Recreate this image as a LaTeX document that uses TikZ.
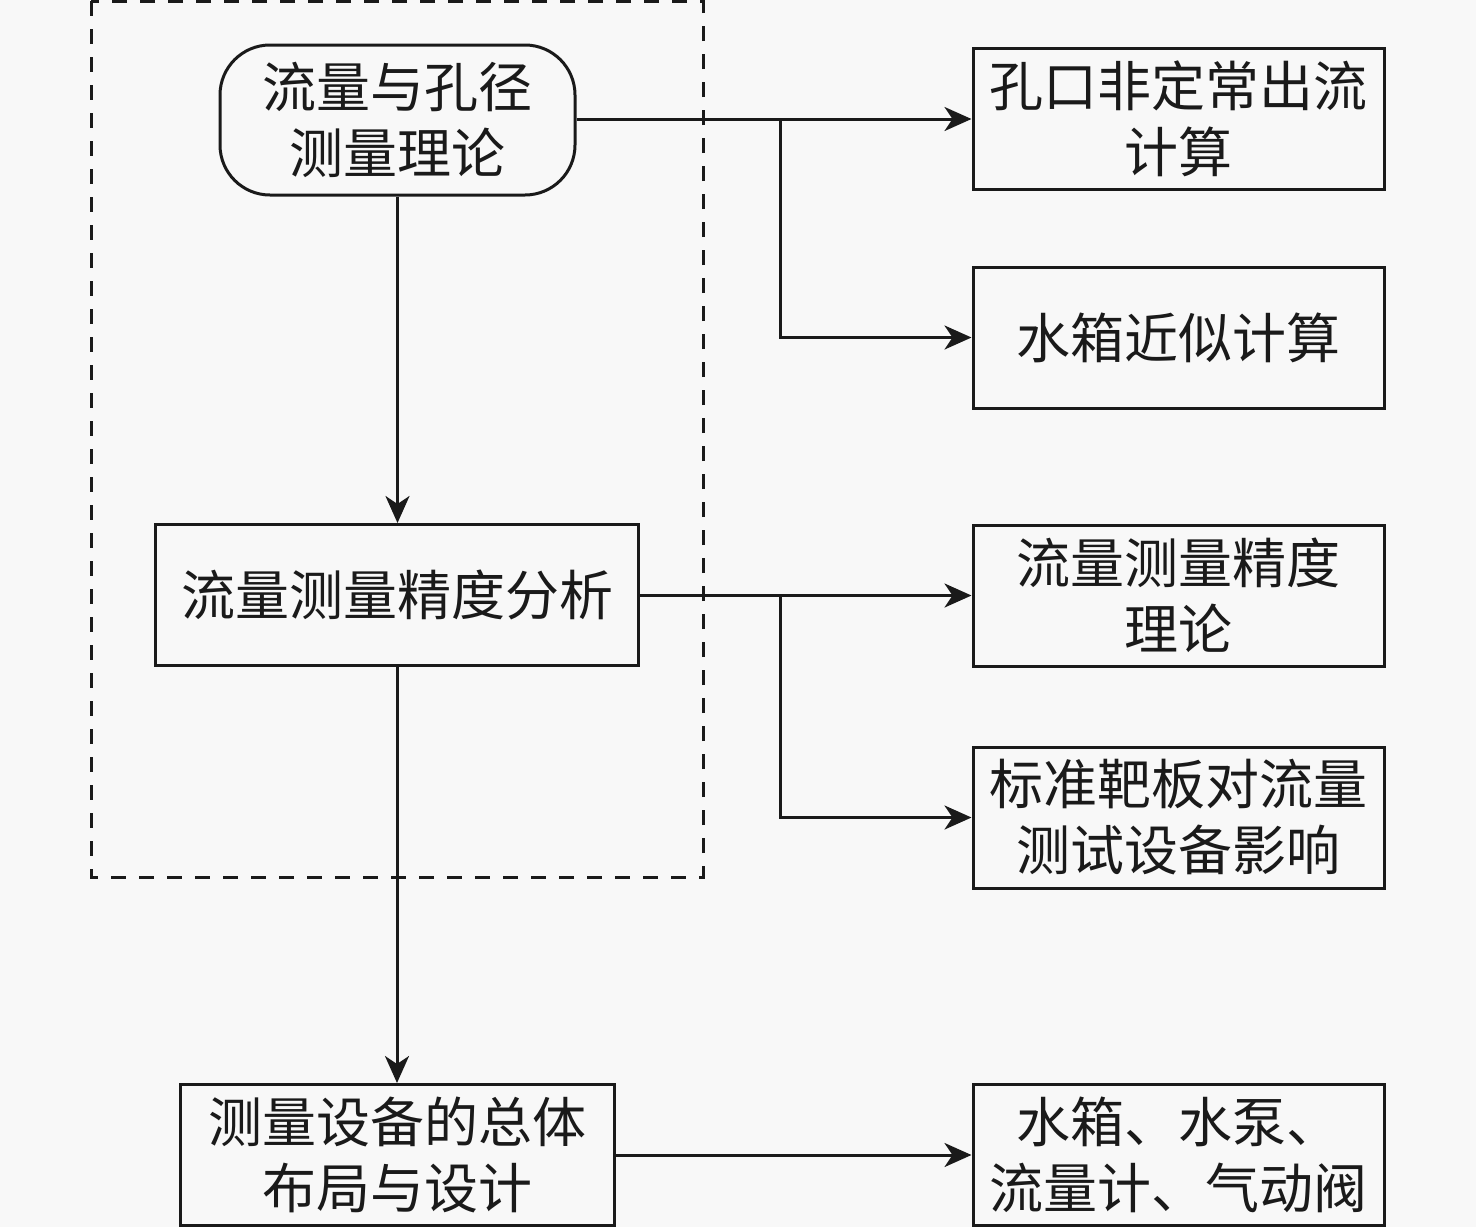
\documentclass[tikz,border=0pt]{standalone}
\usepackage{fontspec}
\setmainfont{Noto Sans CJK SC}
\usetikzlibrary{arrows.meta}
\definecolor{bg}{HTML}{F8F8F8}
\definecolor{ln}{HTML}{1A1A1A}
\begin{document}
\begin{tikzpicture}[x=1pt,y=-1pt,
  txt/.style={font=\fontsize{54}{66}\selectfont, align=center, text=ln, inner sep=0pt},
  box/.style={txt, draw=ln, line width=3pt, minimum height=141pt},
  rbox/.style={box, minimum width=411pt},
  arr/.style={draw=ln, line width=3pt, -{Stealth[length=27pt,width=24pt,inset=8pt]}},
  frame/.style={draw=ln, line width=3pt, dash pattern=on 15pt off 13pt}]
\useasboundingbox (0,0) rectangle (1476,1227);
\fill[bg] (0,0) rectangle (1476,1227);
\draw[frame] (91,1) rectangle (703,877);
\node[box, rounded corners=50pt, minimum width=355pt, minimum height=150pt] (a) at (397.5,120) {流量与孔径\\测量理论};
\node[box, minimum width=483pt] (b) at (397,595) {流量测量精度分析};
\node[box, minimum width=434pt] (c) at (397,1155) {测量设备的总体\\布局与设计};
\node[rbox] (r1) at (1178.5,119) {孔口非定常出流\\计算};
\node[rbox] (r2) at (1178.5,337.5) {水箱近似计算};
\node[rbox] (r3) at (1178.5,595.5) {流量测量精度\\理论};
\node[rbox] (r4) at (1178.5,817.5) {标准靶板对流量\\测试设备影响};
\node[rbox] (r5) at (1178.5,1155) {水箱、水泵、\\流量计、气动阀};
\coordinate (j1) at (780,119);
\coordinate (j2) at (780,595.5);
\draw[arr] (a.south) -- (a.south |- b.north);
\draw[arr] (b.south) -- (b.south |- c.north);
\draw[arr] (a.east |- r1.west) -- (r1.west);
\draw[arr] (j1) |- (r2.west);
\draw[arr] (b.east |- r3.west) -- (r3.west);
\draw[arr] (j2) |- (r4.west);
\draw[arr] (c.east) -- (r5.west);
\end{tikzpicture}
\end{document}
